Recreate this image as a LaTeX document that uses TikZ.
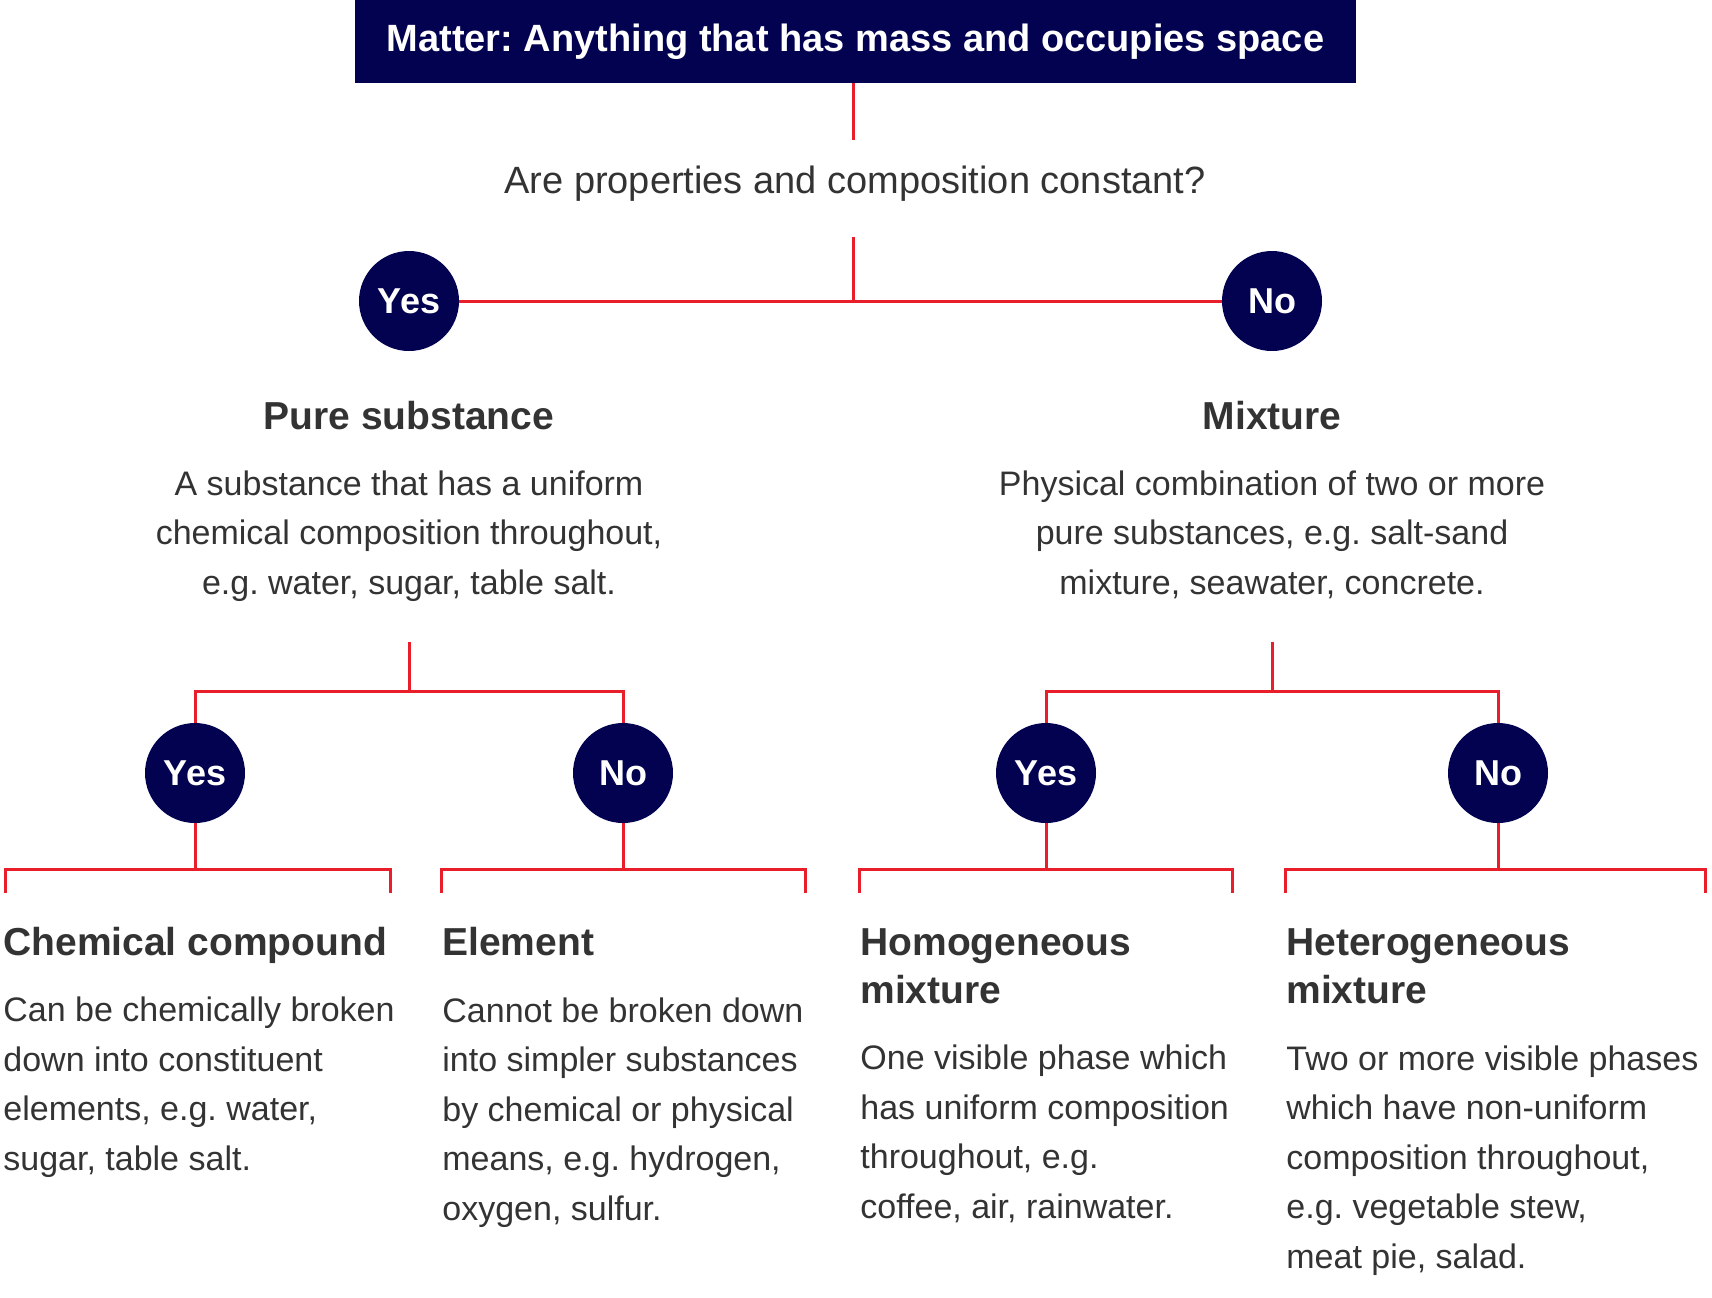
\documentclass[tikz,border=0pt]{standalone}
\usepackage{fontspec}
\setmainfont{Liberation Sans}
\frenchspacing
\definecolor{navy}{RGB}{2,2,80}
\definecolor{lred}{RGB}{232,30,42}
\definecolor{txt}{RGB}{51,51,51}
\begin{document}
\begin{tikzpicture}[x=0.5pt,y=-0.5pt,
 redline/.style={draw=lred,line width=1.5pt},
 titlebox/.style={fill=navy,text=white,font=\bfseries\fontsize{19}{22}\selectfont,minimum width=500.5pt,minimum height=41.5pt,inner sep=0},
 answer/.style={circle,fill=navy,text=white,font=\bfseries\fontsize{18}{20}\selectfont,minimum size=50pt,inner sep=0},
 qtext/.style={text=txt,font=\fontsize{19}{22}\selectfont,inner sep=0,anchor=base},
 head/.style={text=txt,font=\bfseries\fontsize{19.5}{24}\selectfont,inner sep=0},
 desc/.style={text=txt,font=\fontsize{17}{24.7}\selectfont,inner sep=0},
]
\useasboundingbox (0,0) rectangle (1712,1297);
% top
\node[titlebox] (title) at (855.5,41.5) {Matter: Anything that has mass and occupies space};
\node[qtext] (q) at (855,193) {Are properties and composition constant?};
\coordinate (qtop) at (853,140);
\coordinate (qbot) at (853,237);
\coordinate (j1) at (853,300);
\draw[redline] (title.south -| qtop) -- (qtop);
\draw[redline] (qbot) -- (j1);
\node[answer] (y1) at (409,301) {Yes};
\node[answer] (n1) at (1272,301) {No};
\draw[redline] (y1) -- (n1);
% second level (multi-line nodes: base = baseline of last line)
\node[head,anchor=base] (ps) at (409,429) {Pure substance};
\node[desc,align=center,anchor=base] (psd) at (409,594) {A substance that has a uniform\\chemical composition throughout,\\e.g. water, sugar, table salt.};
\node[head,anchor=base] (mx) at (1272,429) {Mixture};
\node[desc,align=center,anchor=base] (mxd) at (1272,594) {Physical combination of two or more\\pure substances, e.g. salt-sand\\mixture, seawater, concrete.};
% branches
\coordinate (b1top) at (409,642);
\coordinate (b1) at (409,691);
\coordinate (b2top) at (1272,642);
\coordinate (b2) at (1272,691);
\node[answer] (y2) at (195,773) {Yes};
\node[answer] (n2) at (623,773) {No};
\node[answer] (y3) at (1046,773) {Yes};
\node[answer] (n3) at (1498,773) {No};
\draw[redline] (b1top) -- (b1);
\draw[redline] (y2.north) |- (b1) -| (n2.north);
\draw[redline] (b2top) -- (b2);
\draw[redline] (y3.north) |- (b2) -| (n3.north);
% brackets
\coordinate (k1) at (195,869);
\coordinate (k2) at (623,869);
\coordinate (k3) at (1046,869);
\coordinate (k4) at (1498,869);
\coordinate (c1l) at (5,893);   \coordinate (c1r) at (390,893);
\coordinate (c2l) at (441,893); \coordinate (c2r) at (805,893);
\coordinate (c3l) at (859,893); \coordinate (c3r) at (1232,893);
\coordinate (c4l) at (1285,893);\coordinate (c4r) at (1705,893);
\draw[redline] (y2.south) -- (k1);
\draw[redline] (n2.south) -- (k2);
\draw[redline] (y3.south) -- (k3);
\draw[redline] (n3.south) -- (k4);
\draw[redline] (c1l) |- (k1) -| (c1r);
\draw[redline] (c2l) |- (k2) -| (c2r);
\draw[redline] (c3l) |- (k3) -| (c3r);
\draw[redline] (c4l) |- (k4) -| (c4r);
% leaves
\node[head,anchor=base west] (cc) at (3,955) {Chemical compound};
\node[desc,align=left,anchor=base west] (ccd) at (3,1170) {Can be chemically broken\\down into constituent\\elements, e.g. water,\\sugar, table salt.};
\node[head,anchor=base west] (el) at (442,955) {Element};
\node[desc,align=left,anchor=base west] (eld) at (442,1220) {Cannot be broken down\\into simpler substances\\by chemical or physical\\means, e.g. hydrogen,\\oxygen, sulfur.};
\node[head,align=left,anchor=base west] (ho) at (860,1003) {Homogeneous\\mixture};
\node[desc,align=left,anchor=base west] (hod) at (860,1218) {One visible phase which\\has uniform composition\\throughout, e.g.\\coffee, air, rainwater.};
\node[head,align=left,anchor=base west] (he) at (1286,1003) {Heterogeneous\\mixture};
\node[desc,align=left,anchor=base west] (hed) at (1286,1268) {Two or more visible phases\\which have non-uniform\\composition throughout,\\e.g. vegetable stew,\\meat pie, salad.};
\end{tikzpicture}
\end{document}
